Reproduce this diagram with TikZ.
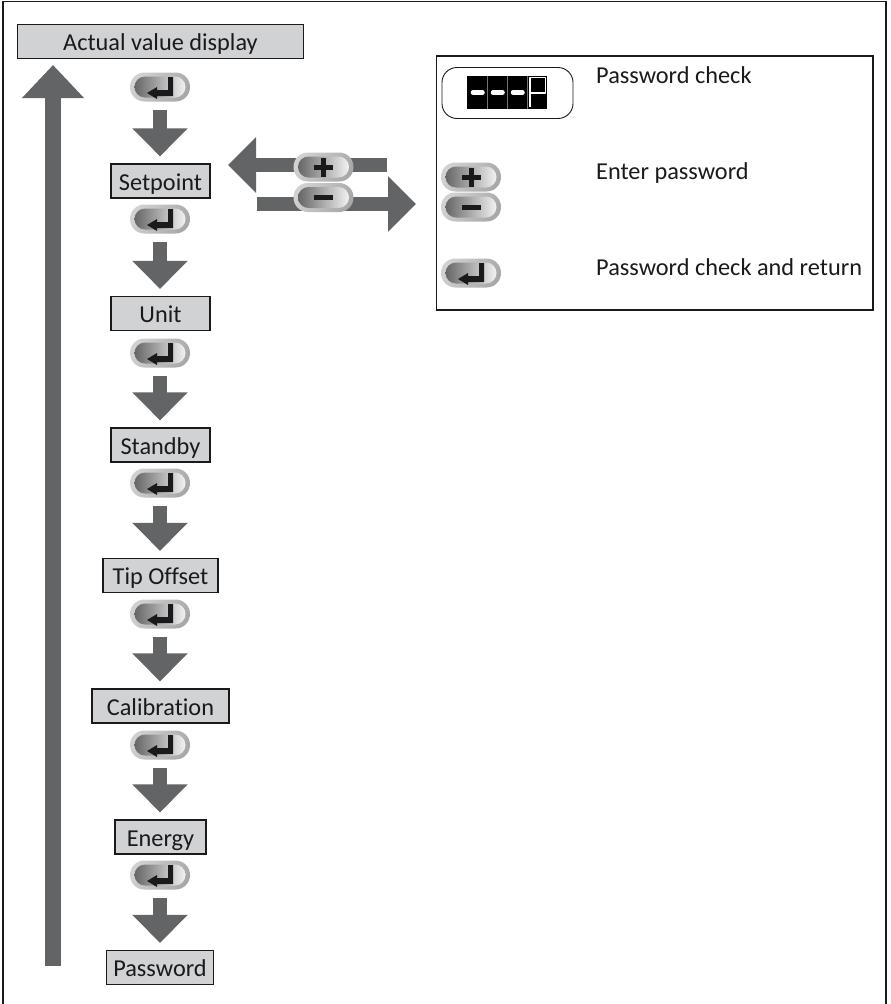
\documentclass[tikz,border=0pt]{standalone}
\usepackage{fontspec}
\setmainfont{Carlito}[Ligatures=NoCommon]
\usetikzlibrary{arrows.meta,backgrounds}
\definecolor{ink}{HTML}{1A1A1C}
\definecolor{boxfill}{HTML}{D1D2D4}
\definecolor{flow}{HTML}{636466}
\tikzset{
  stepbox/.style={draw=ink,line width=1.3pt,fill=boxfill,inner sep=0pt,minimum height=34pt,
    text height=19pt,text depth=1pt,text=ink},
  keycapbody/.style={rounded corners=14.4pt,minimum width=60pt,minimum height=29pt,inner sep=0pt,
    left color=black!18,right color=black!34,shading angle=60},
  flowarrow/.style={flow,line width=14pt,-{Triangle[length=28pt,width=54pt]}},
  flowstub/.style={flow,line width=14pt},
  legendtext/.style={anchor=base west,inner sep=0pt,text=ink}
}
% one push button: outer ring, dished face, then its glyph
\newcommand{\keycap}[3]{
  \node[keycapbody] (#1) at (#2) {};
  \begin{scope}[shift={(#1.center)}]
    \shade[rounded corners=10.5pt,left color=black!60,middle color=black!34,right color=black!5]
      (-25.5,-10.5) rectangle (25.5,10.5);
    #3
  \end{scope}
}
\newcommand{\enterglyph}{\fill[ink] (8,-10) -- (13,-10) -- (13,9) -- (-3,9) -- (-3,12) -- (-13,6) -- (-3,0) -- (-3,3) -- (8,3) -- cycle;}
\newcommand{\plusglyph}{\fill[ink] (-9.5,-2.5) rectangle (9.5,2.5); \fill[ink] (-2.5,-9.5) rectangle (2.5,9.5);}
\newcommand{\minusglyph}{\fill[ink] (-9.5,-2.5) rectangle (9.5,2.5);}
\begin{document}
\begin{tikzpicture}[x=1pt,y=-1pt,font=\fontsize{24.3}{29}\selectfont]
\useasboundingbox (0,0) rectangle (891,1004);
% outer frame, open at the foot of the page
\draw[ink,line width=1.2pt] (3,1004) -- (3,1.5) -- (886,1.5) -- (886,1004);
% menu column
\foreach \stepname/\steptext/\stepw/\stepy/\keyy in {
  actual/Actual value display/286/41.5/87,
  setpoint/Setpoint/99/181/219,
  unit/Unit/99/313.5/353,
  standby/Standby/99/445/483,
  tipoffset/Tip Offset/115/575.5/614,
  calibration/Calibration/137/706/745,
  energy/Energy/91/837/875}{
  \node[stepbox,minimum width=\stepw pt] (\stepname) at (160.5,\stepy) {\steptext};
  \keycap{key\stepname}{160,\keyy}{\enterglyph}
}
\node[stepbox,minimum width=107pt] (password) at (160,967.5) {Password};
\foreach \keyname/\stepname in {actual/setpoint,setpoint/unit,unit/standby,standby/tipoffset,
  tipoffset/calibration,calibration/energy,energy/password}{
  \draw[flowarrow,shorten <=8pt,shorten >=7pt] (key\keyname.south) -- (key\keyname.south |- \stepname.north);
}
% return path up to the top
\coordinate (loopfoot) at (53,966);
\coordinate (loophead) at (53,65);
\draw[flow,line width=16pt,-{Triangle[length=33pt,width=60pt]}] (loopfoot) -- (loophead);
% plus and minus beside Setpoint
\keycap{keyplus}{323.5,167}{\plusglyph}
\keycap{keyminus}{323.5,197.5}{\minusglyph}
\coordinate (plustip) at (228,165);
\coordinate (plusstub) at (387,165);
\coordinate (minusstub) at (257,204);
\coordinate (minustip) at (416,204);
\begin{scope}[on background layer]
  \draw[flowarrow] (keyplus.center |- plustip) -- (plustip);
  \draw[flowstub] (keyplus.center |- plusstub) -- (plusstub);
  \draw[flowstub] (minusstub) -- (keyminus.center |- minusstub);
  \draw[flowarrow] (keyminus.center |- minustip) -- (minustip);
\end{scope}
% legend
\draw[ink,line width=1.1pt] (436.5,56) rectangle (873,310);
\draw[ink,line width=.9pt,rounded corners=15pt] (442,67.5) rectangle (573,118.5);
\fill[black] (467,75.5) rectangle (547,109);
\foreach \x in {487.5,507.5,527.5}{\draw[black!55,line width=.5pt] (\x,75.5) -- (\x,109);}
% dashes and the letter on the display
\foreach \x in {471.5,491.5,511.5}{\draw[white,line width=4.5pt,line cap=round] (\x+1.5,92.5) -- (\x+11,92.5);}
\draw[white,line width=1.5pt,line join=round] (530,106.5) -- (530,77.5) -- (545.5,77.5) -- (545.5,93) -- (530,93);
\keycap{legendplus}{471,177}{\plusglyph}
\keycap{legendminus}{471,207}{\minusglyph}
\keycap{legendenter}{471,273}{\enterglyph}
\node[legendtext] (lblcheck) at (596,83) {Password check};
\node[legendtext] (lblenter) at (596,179) {Enter password};
\node[legendtext] (lblreturn) at (596,275) {Password check and return};
\end{tikzpicture}
\end{document}
